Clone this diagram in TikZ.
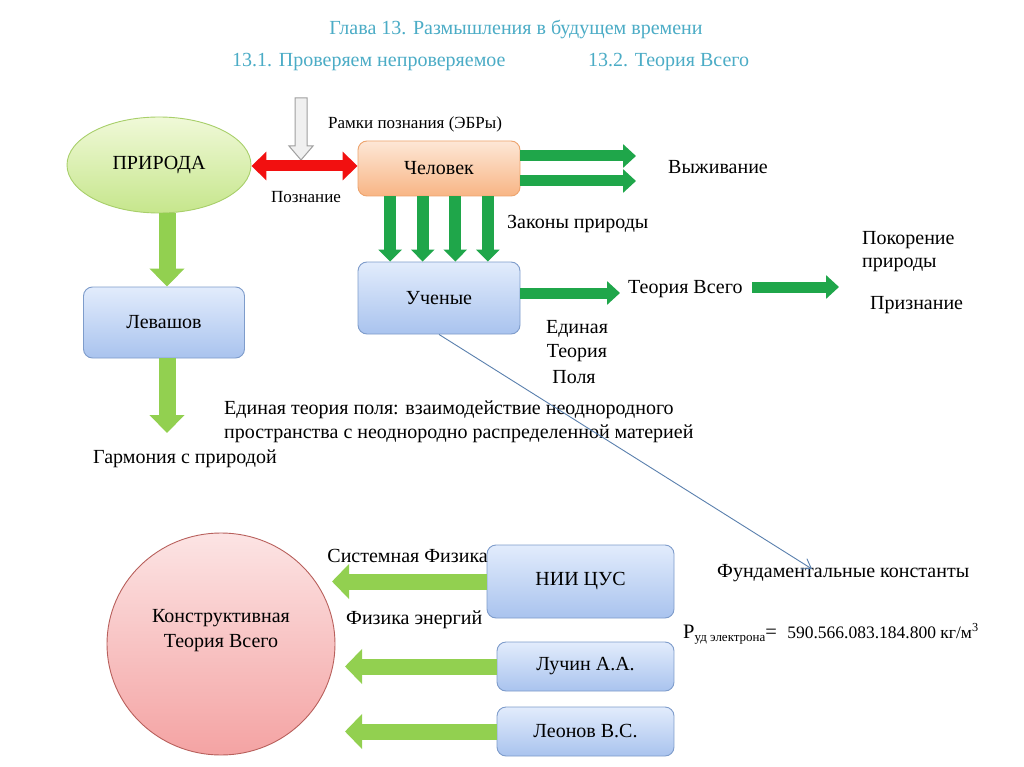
\documentclass[tikz,border=0pt]{standalone}
\usepackage{fontspec}
\setmainfont{Liberation Serif}
\usetikzlibrary{arrows.meta,calc,shapes.geometric}
\definecolor{ttl}{HTML}{4BACC6}
\definecolor{dgreen}{HTML}{1FA64A}
\definecolor{lgreen}{HTML}{92D050}
\definecolor{bluetop}{HTML}{E2ECFC}
\definecolor{bluebot}{HTML}{A9C3EE}
\definecolor{blueborder}{HTML}{7E9CCB}
\definecolor{orgtop}{HTML}{FDE7D6}
\definecolor{orgbot}{HTML}{F8B585}
\definecolor{orgborder}{HTML}{EDA46E}
\definecolor{grtop}{HTML}{F0F9D8}
\definecolor{grbot}{HTML}{C6E68C}
\definecolor{grborder}{HTML}{A8CF6A}
\definecolor{pktop}{HTML}{FCE4E4}
\definecolor{pkbot}{HTML}{F4A3A3}
\definecolor{pkborder}{HTML}{B8605C}
\definecolor{redarr}{HTML}{F21010}
\definecolor{lineblue}{HTML}{5A80AE}
\newcommand\fsz[1]{\fontsize{#1}{#1}\selectfont}
\tikzset{
  bluebox/.style={draw=blueborder, line width=0.9pt, rounded corners=9pt,
    top color=bluetop, bottom color=bluebot, inner sep=0pt, font=\fsz{20}},
  txt/.style={inner sep=0pt, font=\fsz{20}},
  dgright/.style={draw=dgreen, line width=11pt, -{Triangle[width=23pt,length=13pt]}},
  dgdown/.style={draw=dgreen, line width=12pt, -{Triangle[width=23pt,length=12pt]}},
  lgbig/.style={draw=lgreen, line width=17pt, -{Triangle[width=34pt,length=18pt]}},
  lgleft/.style={draw=lgreen, line width=16pt, -{Triangle[width=34pt,length=17pt]}},
}
\begin{document}
\begin{tikzpicture}[x=1pt,y=-1pt]
\useasboundingbox[fill=white] (0,0) rectangle (1024,767);

% titles
\node[txt, text=ttl] (title) at (516,30) {Глава 13. Размышления в будущем времени};
\node[txt, text=ttl, anchor=west] (t131) at (232,62) {13.1. Проверяем непроверяемое};
\node[txt, text=ttl, anchor=west] (t132) at (588,62) {13.2. Теория Всего};

% shapes
\node[ellipse, draw=grborder, line width=0.9pt, top color=grtop, bottom color=grbot,
  minimum width=184pt, minimum height=96pt, inner sep=0pt, font=\fsz{20}] (prir) at (159,165) {ПРИРОДА};
\node[draw=orgborder, line width=0.9pt, rounded corners=9pt, top color=orgtop, bottom color=orgbot,
  minimum width=162pt, minimum height=55pt, inner sep=0pt, font=\fsz{20}] (chel) at (439,168.5) {Человек};
\node[bluebox, minimum width=162pt, minimum height=72pt] (uch) at (439,298) {Ученые};
\node[bluebox, minimum width=161pt, minimum height=71pt] (lev) at (164,322.5) {Левашов};
\node[bluebox, minimum width=187pt, minimum height=73pt] (nii) at (580.5,581.5) {НИИ ЦУС};
\node[bluebox, minimum width=177pt, minimum height=49pt] (luch) at (585.5,666.5) {Лучин А.А.};
\node[bluebox, minimum width=177pt, minimum height=49pt] (leon) at (585.5,731.5) {Леонов В.С.};
\node[ellipse, draw=pkborder, line width=0.9pt, top color=pktop, bottom color=pkbot,
  minimum width=228pt, minimum height=222pt, inner sep=0pt] (ktv) at (221,644) {};
\node[txt, align=center, font=\fontsize{20}{25}\selectfont] (ktvt) at (221,631) {Конструктивная\\Теория Всего};

% gray input arrow
\draw[draw=gray!75, fill=gray!12, line width=1pt, line join=miter]
  (295,98) -- (307,98) -- (307,146) -- (313,146) -- (301,160) -- (289,146) -- (295,146) -- cycle;

% labels
\node[txt, anchor=west, font=\fsz{17}] (ramki) at (328,124) {Рамки познания (ЭБРы)};
\node[txt, font=\fsz{17}] (pozn) at (306,197) {Познание};
\node[txt, anchor=west] (vyzh) at (668,167) {Выживание};
\node[txt, anchor=west] (zak) at (507,224) {Законы природы};
\node[txt, anchor=west] (tv) at (628,289) {Теория Всего};
\node[txt, anchor=west] (pok1) at (862,240) {Покорение};
\node[txt, anchor=west] (pok2) at (862,265) {природы};
\node[txt, anchor=west] (priz) at (870,305) {Признание};
\node[txt] (e1) at (577,329) {Единая};
\node[txt] (e2) at (577,353) {Теория};
\node[txt] (e3) at (574,377) {Поля};
\node[txt, anchor=west] (etp1) at (224,410) {Единая теория поля: взаимодействие неоднородного};
\node[txt, anchor=west] (etp2) at (224,434) {пространства с неоднородно распределенной материей};
\node[txt, anchor=west] (garm) at (93,459) {Гармония с природой};
\node[txt, anchor=east] (sysf) at (488,556) {Системная Физика};
\node[txt, anchor=west] (fen) at (346,620) {Физика энергий};
\node[txt, anchor=west] (fund) at (717,573) {Фундаментальные константы};
\node[txt, anchor=base west, font=\fsz{20.5}] (form) at (683,638)
  {Р{\fsz{13}\raisebox{-3pt}{уд электрона}}=\ \ {\fsz{17.5}590.566.083.184.800 кг/м\textsuperscript{3}}};

% free ends
\coordinate (s1) at (636,156);
\coordinate (s2) at (636,181);
\coordinate (tve) at (620,293);
\coordinate (ptv) at (752,287);
\coordinate (ptve) at (839,287);
\coordinate (garmtop) at (167,433);
\coordinate (fk) at (812,569);

% connectors
\draw[draw=redarr, line width=11pt, {Triangle[width=28pt,length=15pt]}-{Triangle[width=28pt,length=15pt]}]
  (prir.east |- 0,166) -- (chel.west |- 0,166);
\draw[dgright] (chel.east |- s1) -- (s1);
\draw[dgright] (chel.east |- s2) -- (s2);
\foreach \f in {0.2,0.4,0.6,0.8}{
  \draw[dgdown] ($(chel.south west)!\f!(chel.south east)$) -- ($(uch.north west)!\f!(uch.north east)$);
}
\draw[dgright] (uch.east |- tve) -- (tve);
\draw[dgright] (ptv) -- (ptve);
\draw[lgbig] ($(prir.south)+(8,0)$) -- (lev.north -| garmtop);
\draw[lgbig] (lev.south -| garmtop) -- (garmtop);
\draw[lgleft] (nii.west) -- (nii.west -| 332,0);
\draw[lgleft] (luch.west) -- (luch.west -| 345,0);
\draw[lgleft] (leon.west) -- (leon.west -| 345,0);
\draw[draw=lineblue, line width=0.9pt, -{Straight Barb[length=9pt,width=12pt]}] (uch.south) -- (fk);
\end{tikzpicture}
\end{document}
